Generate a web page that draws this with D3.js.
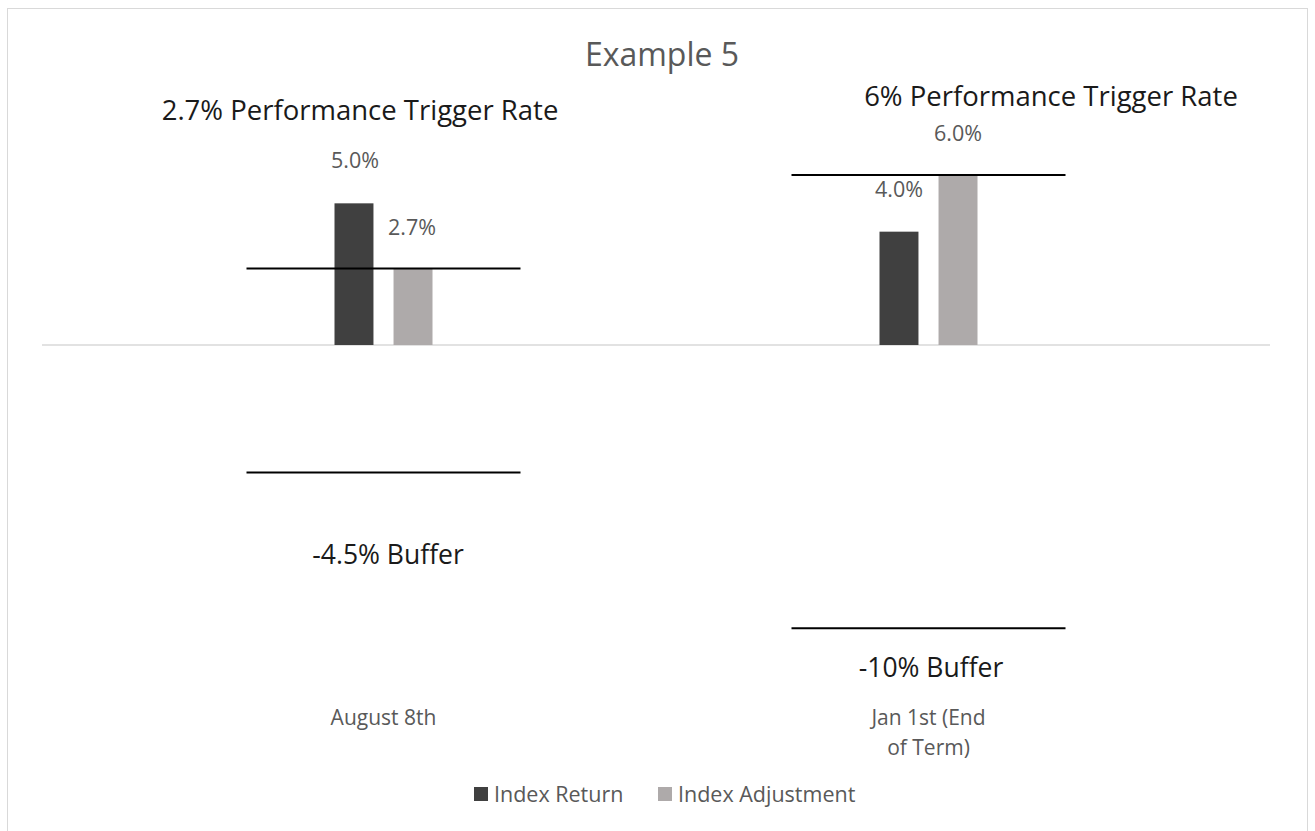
<!DOCTYPE html>
<html><head><meta charset="utf-8">
<script src="https://cdn.jsdelivr.net/npm/d3@7"></script>
<style>body{margin:0;background:#fff}svg{display:block}text{font-family:"Open Sans","Noto Sans",sans-serif}</style>
</head><body><svg id="c" width="1315" height="831"></svg>
<script>
const categories = ["August 8th", "Jan 1st (End|of Term)"];
const series = ["Index Return", "Index Adjustment"];
const indexReturn = [5.0, 4.0];
const indexAdjustment = [2.7, 6.0];
const triggerRates = [2.7, 6.0];
const buffers = [-4.5, -10.0];
const triggerLabels = ["2.7% Performance Trigger Rate", "6% Performance Trigger Rate"];
const bufferLabels = ["-4.5% Buffer", "-10% Buffer"];
const colors = ["#404040", "#AEAAAA"];

const svg = d3.select("#c");
svg.append("rect").attr("x",7.5).attr("y",8.5).attr("width",1300).attr("height",830).attr("fill","none").attr("stroke","#d9d9d9");

const y = d3.scaleLinear().domain([0, 6]).range([345, 175]);
const x = d3.scaleBand().domain(categories).range([111, 1201]);
const xs = d3.scaleBand().domain(series).range([-49, 49]).paddingInner(0.34).paddingOuter(0);

svg.append("text").attr("x",662).attr("y",66).attr("text-anchor","middle").attr("fill","#595959").attr("font-size",32).text("Example 5");

// zero line
svg.append("line").attr("x1",42).attr("x2",1270).attr("y1",y(0)).attr("y2",y(0)).attr("stroke","#d9d9d9").attr("stroke-width",1.5);

const vals = [indexReturn, indexAdjustment];
categories.forEach((c,i)=>{
  const cx = x(c) + x.bandwidth()/2;
  series.forEach((s,j)=>{
    const v = vals[j][i];
    svg.append("rect").attr("x", cx + xs(s)).attr("width", xs.bandwidth())
      .attr("y", y(Math.max(0,v))).attr("height", Math.abs(y(v)-y(0))).attr("fill", colors[j]);
  });
  [triggerRates[i], buffers[i]].forEach(v=>{
    svg.append("line").attr("x1", cx-137).attr("x2", cx+137).attr("y1", y(v)).attr("y2", y(v)).attr("stroke","#000").attr("stroke-width",2);
  });
  c.split("|").forEach((t,k)=>{
    svg.append("text").attr("x",cx).attr("y",725+k*30).attr("text-anchor","middle").attr("fill","#595959").attr("font-size",21).text(t);
  });
});

// value labels
const valLabelPos = [
  [[355,168],[899,197]],
  [[412,235],[958,141]]
];
series.forEach((s,j)=>{
  categories.forEach((c,i)=>{
    const v = vals[j][i];
    svg.append("text").attr("x",valLabelPos[j][i][0]).attr("y",valLabelPos[j][i][1]).attr("text-anchor","middle").attr("fill","#595959").attr("font-size",21.5).text(d3.format(".1f")(v)+"%");
  });
});

// annotations
const trigPos = [[360,120],[1051,106]];
const bufPos = [[388,564],[931,677]];
triggerLabels.forEach((t,i)=>svg.append("text").attr("x",trigPos[i][0]).attr("y",trigPos[i][1]).attr("text-anchor","middle").attr("fill","#1a1a1a").attr("font-size",27.5).text(t));
bufferLabels.forEach((t,i)=>svg.append("text").attr("x",bufPos[i][0]).attr("y",bufPos[i][1]).attr("text-anchor","middle").attr("fill","#1a1a1a").attr("font-size",26.5).text(t));

// legend
const lg = svg.append("g");
const legX = [474, 658];
series.forEach((s,j)=>{
  lg.append("rect").attr("x",legX[j]).attr("y",787).attr("width",14).attr("height",14).attr("fill",colors[j]);
  lg.append("text").attr("x",legX[j]+20).attr("y",802).attr("fill","#595959").attr("font-size",21.5).text(s);
});
</script></body></html>
